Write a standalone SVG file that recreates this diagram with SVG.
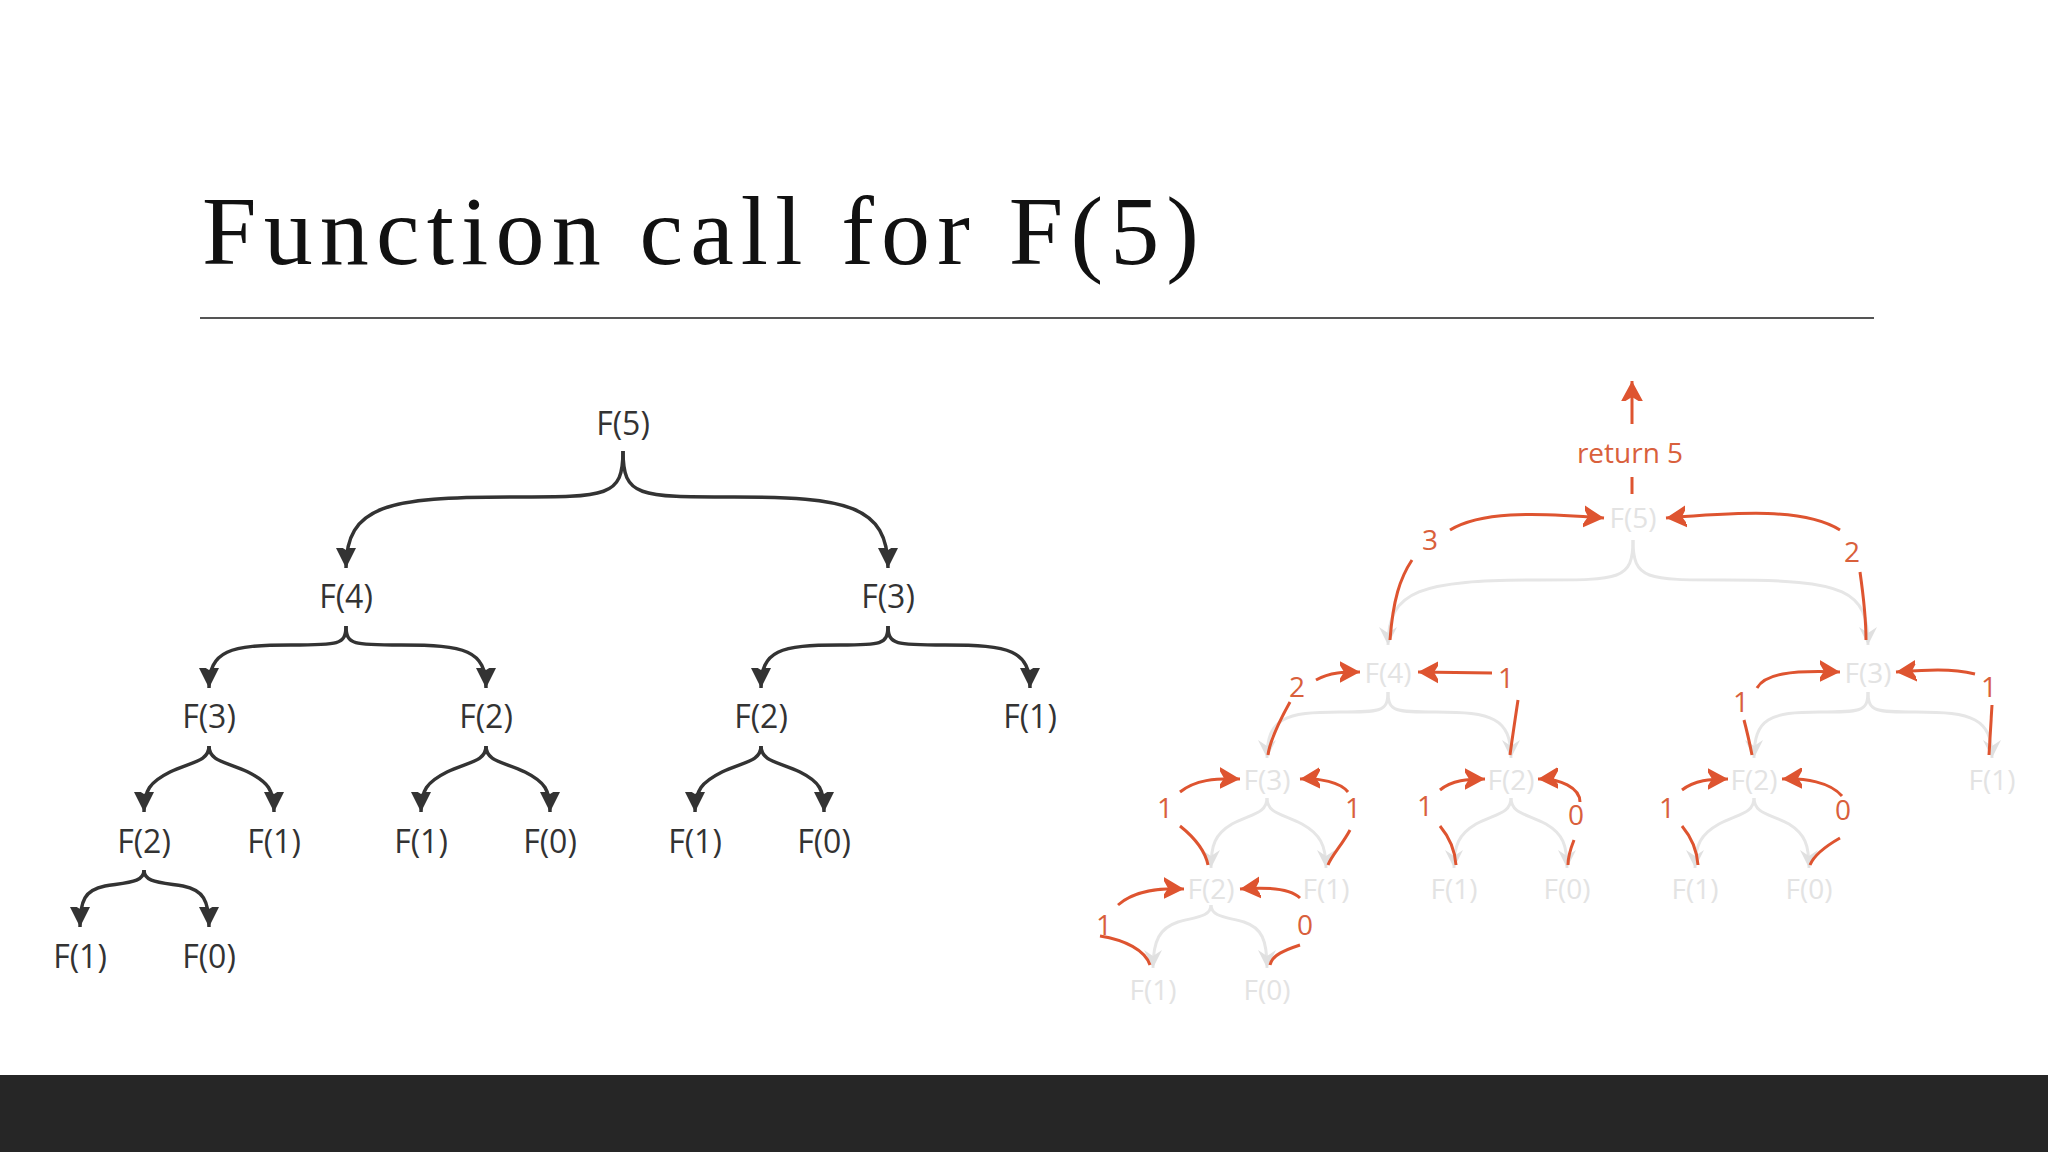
<svg xmlns="http://www.w3.org/2000/svg" width="2048" height="1152" viewBox="0 0 2048 1152">
<style>
.t{font-family:"Open Sans","DejaVu Sans",sans-serif;text-anchor:middle}
.d{fill:#333;font-size:32px}
.g{fill:#e3e3e3;font-size:28px}
.o{fill:#d9603c;font-size:28px}
.bd{fill:none;stroke:#333;stroke-width:3.5;marker-end:url(#ad)}
.bg{fill:none;stroke:#e6e6e6;stroke-width:3;marker-end:url(#ag)}
.or{fill:none;stroke:#de5430;stroke-width:3}
.oa{marker-end:url(#ao)}
</style>
<defs>
<marker id="ad" markerUnits="userSpaceOnUse" markerWidth="40" markerHeight="40" refX="0" refY="0" viewBox="-20 -20 40 40" orient="auto">
<path d="M0,0 L-26,-13 L-18,0 L-26,13 Z" fill="#333"/></marker>
<marker id="ag" markerUnits="userSpaceOnUse" markerWidth="40" markerHeight="40" refX="0" refY="0" viewBox="-20 -20 40 40" orient="auto">
<path d="M0,0 L-18,-9 L-12,0 L-18,9 Z" fill="#e0e0e0"/></marker>
<marker id="ao" markerUnits="userSpaceOnUse" markerWidth="40" markerHeight="40" refX="0" refY="0" viewBox="-20 -20 40 40" orient="auto">
<path d="M0,0 L-24,-13 L-16,0 L-24,13 Z" fill="#de5430"/></marker>
</defs>
<rect width="2048" height="1152" fill="#fff"/>
<text x="202" y="264" font-family="Liberation Serif,serif" font-size="98" textLength="997" fill="#111">Function call for F(5)</text>
<line x1="200" y1="318" x2="1874" y2="318" stroke="#555" stroke-width="2"/>
<rect x="0" y="1075" width="2048" height="77" fill="#262626"/>
<g id="connectors">
<path class="bd" d="M623,451 C623,497 608,497 512,497 C388,497 346,505 346,568"/>
<path class="bd" d="M623,451 C623,497 638,497 734,497 C846,497 888,505 888,568"/>
<path class="bd" d="M346,626 C346,645 338,645 291,645 C230,645 209,650 209,688"/>
<path class="bd" d="M346,626 C346,645 354,645 401,645 C465,645 486,650 486,688"/>
<path class="bd" d="M888,626 C888,645 880,645 840,645 C780,645 761,650 761,688"/>
<path class="bd" d="M888,626 C888,645 896,645 945,645 C1010,645 1030,650 1030,688"/>
<path class="bd" d="M209,746 C209,762 190,762 170,772 C150,782 144,790 144,812"/>
<path class="bd" d="M209,746 C209,762 228,762 248,772 C268,782 274,790 274,812"/>
<path class="bd" d="M486,746 C486,762 467,762 447,772 C427,782 421,790 421,812"/>
<path class="bd" d="M486,746 C486,762 505,762 525,772 C545,782 550,790 550,812"/>
<path class="bd" d="M761,746 C761,762 742,762 722,772 C702,782 695,790 695,812"/>
<path class="bd" d="M761,746 C761,762 780,762 800,772 C820,782 824,790 824,812"/>
<path class="bd" d="M144,870 C144,882 130,882 105,886 C85,890 80,900 80,927"/>
<path class="bd" d="M144,870 C144,882 158,882 183,886 C203,890 209,900 209,927"/>

<path class="bg" d="M1633,540 C1633,580 1620,580 1540,580 C1420,580 1388,590 1388,645"/>
<path class="bg" d="M1633,540 C1633,580 1646,580 1726,580 C1846,580 1868,590 1868,645"/>
<path class="bg" d="M1388,692 C1388,712 1380,712 1340,712 C1285,712 1267,718 1267,758"/>
<path class="bg" d="M1388,692 C1388,712 1396,712 1436,712 C1492,712 1511,718 1511,758"/>
<path class="bg" d="M1868,692 C1868,712 1860,712 1820,712 C1770,712 1754,718 1754,758"/>
<path class="bg" d="M1868,692 C1868,712 1876,712 1916,712 C1972,712 1992,718 1992,758"/>
<path class="bg" d="M1267,798 C1267,814 1250,814 1232,824 C1215,834 1211,845 1211,868"/>
<path class="bg" d="M1267,798 C1267,814 1284,814 1302,824 C1320,834 1326,845 1326,868"/>
<path class="bg" d="M1511,798 C1511,814 1494,814 1476,824 C1459,834 1454,845 1454,868"/>
<path class="bg" d="M1511,798 C1511,814 1528,814 1546,824 C1563,834 1567,845 1567,868"/>
<path class="bg" d="M1754,798 C1754,814 1737,814 1719,824 C1701,834 1695,845 1695,868"/>
<path class="bg" d="M1754,798 C1754,814 1771,814 1789,824 C1805,834 1809,845 1809,868"/>
<path class="bg" d="M1211,905 C1211,917 1195,917 1178,922 C1160,928 1153,940 1153,968"/>
<path class="bg" d="M1211,905 C1211,917 1227,917 1244,922 C1262,928 1267,940 1267,968"/>

<g id="returns">
<path class="or oa" d="M1632,424 L1632,381"/>
<path class="or" d="M1632,477 L1632,494"/>
<path class="or" d="M1390,640 C1393,600 1400,578 1412,560"/>
<path class="or oa" d="M1450,530 C1480,512 1530,512 1604,518"/>
<path class="or" d="M1860,572 C1864,600 1866,620 1866,640"/>
<path class="or oa" d="M1840,530 C1805,508 1740,512 1666,518"/>
<path class="or oa" d="M1316,680 C1330,672 1345,672 1360,672"/>
<path class="or" d="M1290,702 C1280,720 1270,740 1268,755"/>
<path class="or oa" d="M1492,673 L1418,672"/>
<path class="or" d="M1518,700 C1515,720 1512,740 1510,755"/>
<path class="or oa" d="M1757,688 C1765,674 1790,670 1840,672"/>
<path class="or" d="M1744,720 C1748,735 1750,745 1752,755"/>
<path class="or oa" d="M1975,674 C1950,668 1925,670 1896,672"/>
<path class="or" d="M1992,705 L1989,755"/>
<path class="or oa" d="M1180,792 C1195,780 1215,778 1240,779"/>
<path class="or" d="M1180,826 C1195,838 1205,850 1208,865"/>
<path class="or oa" d="M1348,792 C1340,782 1320,778 1300,779"/>
<path class="or" d="M1350,830 C1342,845 1332,855 1328,865"/>
<path class="or oa" d="M1440,790 C1452,780 1468,779 1485,779"/>
<path class="or" d="M1440,826 C1450,838 1455,850 1456,865"/>
<path class="or oa" d="M1580,802 C1580,788 1560,778 1538,779"/>
<path class="or" d="M1574,840 C1570,850 1568,858 1568,865"/>
<path class="or oa" d="M1682,790 C1695,780 1710,779 1728,779"/>
<path class="or" d="M1682,826 C1692,838 1697,850 1698,865"/>
<path class="or oa" d="M1842,796 C1830,782 1805,778 1782,779"/>
<path class="or" d="M1840,838 C1826,846 1814,855 1810,865"/>
<path class="or oa" d="M1118,905 C1135,890 1160,888 1184,889"/>
<path class="or" d="M1100,936 C1125,940 1145,950 1150,965"/>
<path class="or oa" d="M1300,898 C1290,888 1265,887 1240,889"/>
<path class="or" d="M1300,945 C1285,950 1272,955 1270,965"/>
</g>
</g>
<g id="left-tree" class="t d">
<text id="l5" x="623" y="435">F(5)</text>
<text id="l4" x="346" y="608">F(4)</text>
<text id="l3r" x="888" y="608">F(3)</text>
<text x="209" y="728">F(3)</text>
<text x="486" y="728">F(2)</text>
<text x="761" y="728">F(2)</text>
<text x="1030" y="728">F(1)</text>
<text x="144" y="853">F(2)</text>
<text x="274" y="853">F(1)</text>
<text x="421" y="853">F(1)</text>
<text x="550" y="853">F(0)</text>
<text x="695" y="853">F(1)</text>
<text x="824" y="853">F(0)</text>
<text x="80" y="968">F(1)</text>
<text x="209" y="968">F(0)</text>
</g>
<g id="right-tree" class="t g">
<text x="1633" y="528">F(5)</text>
<text x="1388" y="683">F(4)</text>
<text x="1868" y="683">F(3)</text>
<text x="1267" y="790">F(3)</text>
<text x="1511" y="790">F(2)</text>
<text x="1754" y="790">F(2)</text>
<text x="1992" y="790">F(1)</text>
<text x="1211" y="899">F(2)</text>
<text x="1326" y="899">F(1)</text>
<text x="1454" y="899">F(1)</text>
<text x="1567" y="899">F(0)</text>
<text x="1695" y="899">F(1)</text>
<text x="1809" y="899">F(0)</text>
<text x="1153" y="1000">F(1)</text>
<text x="1267" y="1000">F(0)</text>
</g>
<g id="return-labels" class="t o">
<text x="1630" y="463">return 5</text>
<text x="1430" y="550">3</text>
<text x="1852" y="562">2</text>
<text x="1297" y="697">2</text>
<text x="1506" y="688">1</text>
<text x="1741" y="712">1</text>
<text x="1989" y="697">1</text>
<text x="1165" y="818">1</text>
<text x="1353" y="818">1</text>
<text x="1425" y="816">1</text>
<text x="1576" y="825">0</text>
<text x="1667" y="818">1</text>
<text x="1843" y="820">0</text>
<text x="1104" y="935">1</text>
<text x="1305" y="935">0</text>
</g>
</svg>
